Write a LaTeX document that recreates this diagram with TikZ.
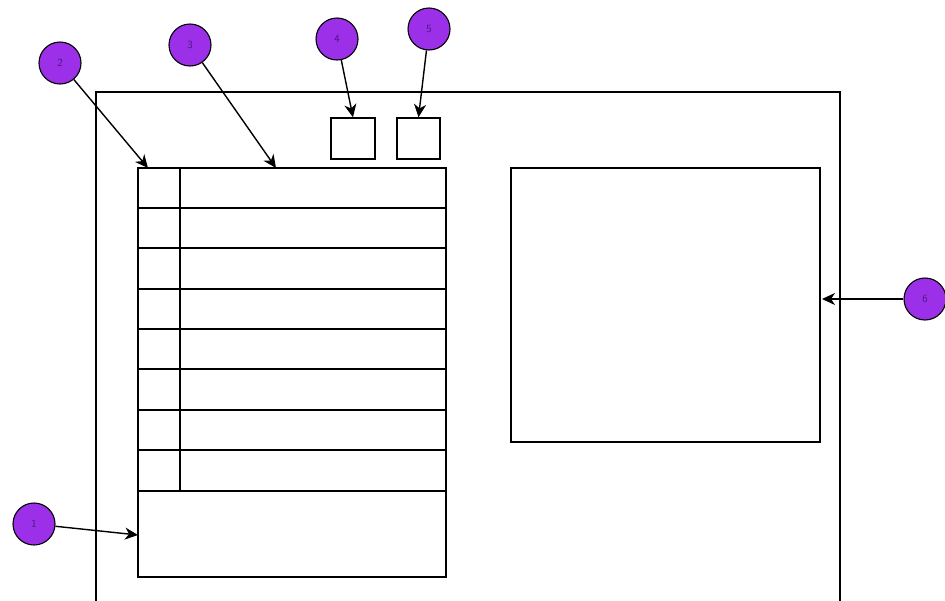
\documentclass[tikz,border=0pt]{standalone}
\usepackage{tikz}
\usetikzlibrary{arrows.meta,positioning}
\definecolor{callpurple}{HTML}{9B30E8}
\definecolor{calltext}{HTML}{4A1580}

\begin{document}
\begin{tikzpicture}[x=1pt,y=-1pt,
 line width=1.4pt,
 callout/.style={circle,draw=black,line width=1.1pt,fill=callpurple,
   minimum size=42pt,inner sep=0pt,font=\sffamily\fontsize{11}{13}\selectfont,text=calltext},
 panel/.style={draw=black,line width=1.4pt,inner sep=0pt},
 arr/.style={-{Stealth[length=13pt,width=12pt,inset=4pt]},line width=1.4pt}]
\useasboundingbox (0,0) rectangle (945,600);
% outer frame, open at the bottom
\draw (96,610) -- (96,92) -- (840,92) -- (840,610);
% list with key column and footer
\draw (138,168) rectangle (446,577);
\draw[line width=2.6pt] (446,168) -- (446,577);
\foreach \y in {208,248,289,329,369,410,450,491}
  \draw (138,\y) -- (446,\y);
\draw (180,168) -- (180,491);
% buttons and preview
\node[panel,minimum width=44pt,minimum height=41pt] (btnA) at (353,138.5) {};
\node[panel,minimum width=43pt,minimum height=41pt] (btnB) at (418.5,138.5) {};
\node[panel,minimum width=309pt,minimum height=274pt] (preview) at (665.5,305) {};
% callouts
\node[callout] (c1) at (34,524) {1};
\node[callout] (c2) at (60,63) {2};
\node[callout] (c3) at (190,45) {3};
\node[callout] (c4) at (337,39) {4};
\node[callout] (c5) at (429,29) {5};
\node[callout] (c6) at (925,299) {6};
\coordinate (t1) at (138,535);
\coordinate (t2) at (148,168);
\coordinate (t3) at (276,168);
\coordinate (t6) at (822,299);
\draw[arr] (c1) -- (t1);
\draw[arr] (c2) -- (t2);
\draw[arr] (c3) -- (t3);
\draw[arr] (c4) -- (btnA.north);
\draw[arr] (c5) -- (btnB.north);
\draw[arr] (c6) -- (t6);
\end{tikzpicture}
\end{document}
